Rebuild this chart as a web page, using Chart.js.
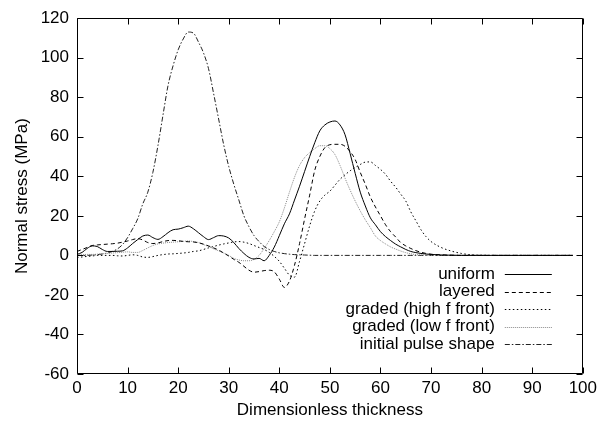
<!DOCTYPE html>
<html>
<head>
<meta charset="utf-8">
<script src="https://cdn.jsdelivr.net/npm/chart.js@4"></script>
<style>
html,body{margin:0;padding:0;background:#fff;}
#wrap{width:601px;height:428px;}
</style>
</head>
<body>
<div id="wrap"><canvas id="c" width="601" height="428"></canvas></div>
<script>
// x positions (dimensionless thickness)
const xs = [0,1,2,3,4,5,6,7,8,9,10,11,12,13,14,15,16,17,18,19,20,21,22,23,24,25,26,27,28,29,30,31,32,33,34,35,36,37,38,39,40,41,42,43,44,45,46,47,48,49,50,51,52,53,54,55,56,57,58,59,60,61,62,63,64,65,66,67,68,69,70,72,74,76,78,80,82,84,86,88,90,92,94,96,98];

const uniform = [0.5,1.5,3.5,4.8,4.5,3,2,2,2.1,2.3, 3.8,6,8,9.8,10.3,9,8.1,9.5,11.5,13, 13.3,14,14.8,13.5,11.5,9.5,8,9,10,9.8, 8.8,6.5,3.5,1,-1,-1.8,-1.5,-2.7,0,4.2, 10,16,21,28,35,42.5,50,57,63,66, 67.5,68,66,61,51.5,41.5,32,25,19,15.5, 12,9.5,7.5,5.7,4.3,3,2,1.4,1,0.7, 0.5, 0.2,0.1,0,0,0,0,0,0,0,0,0,0,0,0];

const layered = [2,3,4,5,5.3,5.5,5.7,5.9,6.2,6.7, 7.3,8,8.5,7.8,6.5,6,6.3,7,7.5,7.6, 7.4,7.1,6.9,6.8,6.4,5.7,4.8,3.8,2.7,1.2, -0.3,-2,-3.5,-5.5,-7.5,-8.5,-8.2,-7.7,-7.5,-8.3, -12,-16.2,-13,-5,6,18.5,30.5,43,50,54.5, 56,56.2,56.2,55.2,52.5,48.5,42,36,29.5,24.5, 20,15.5,12,9.3,6.5,4.8,3.5,2.4,1.6,1, 0.6, 0.3,0.1,0,0,0,0,0,0,0,0,0,0,0,0];

const gradedHigh = [-1,-0.8,-0.5,-0.3,0,0,0,0,-0.2,-0.3, 0,0.3,0,-0.8,-1,-0.6,0,0.4,0.7,0.8, 1,1.2,1.5,2,2.3,3,3.8,4.5,5.2,5.8, 6.3,6.8,7,6.7,6,5,4,3,1.5,-0.5, -3,-6.5,-10,-11,-3,6,15,22.5,27.5,30.5, 32.5,35.5,38.5,40.8,42.8,44.5,46,47.2,47.3,45.5, 43.5,41,37.5,34.5,31,27.5,22,17.5,13,9.5, 7, 4,2.2,1,0.3,0.1,0,0,0,0,0,0,0,0,0];

const gradedLow = [0,0.3,0.5,0.5,0.6,0.8,1,1.2,1.4,1.6, 1.8,1.5,1.5,2.5,3.8,5,5.8,6.2,6.5,6.7, 6.9,7.1,7.3,7,6.5,5.5,4.5,3.3,2.3,1.2, 0,-1.5,-2.3,-2.7,-2.7,-2,0,3.5,7.5,12, 17,24,32,39.5,45.5,49.5,52,54,55.5,55.5, 54,51,45.5,39,33,27.5,22.5,18,14,9.8, 7.5,5.8,4.3,3.2,2.2,1.4,0.8,0.4,0.2,0.1, 0, 0,0,0,0,0,0,0,0,0,0,0,0,0,0];

const pulse = [0,0,0,0.2,0.4,0.7,1.2,2,3.3,5.5, 9,13.5,18.5,26,32,42,55.5,71,86,96, 104,109.5,113,112.5,108,102.5,94.5,82,69,56, 45,36,28,20,14.5,10,7,4.5,3,2, 1.3,0.9,0.6,0.4,0.3,0.2,0.1,0,0,0, 0,0,0,0,0,0,0,0,0,0, 0,0,0,0,0,0,0,0,0,0, 0, 0,0,0,0,0,0,0,0,0,0,0,0,0,0];

const seriesNames = ['uniform','layered','graded (high f front)','graded (low f front)','initial pulse shape'];
const xTicks = [0,10,20,30,40,50,60,70,80,90,100];
const yTicks = [-60,-40,-20,0,20,40,60,80,100,120];

const FONT = '"Liberation Sans", Arial, Helvetica, sans-serif';

function pts(v){ return xs.map((x,i)=>({x:x,y:v[i]})); }

const styles = [
  {color:'#000', dash:[]},
  {color:'#000', dash:[4,3]},
  {color:'#000', dash:[1.5,2.5]},
  {color:'#8a8a8a', dash:[1,1]},
  {color:'#222', dash:[5,2,1.5,2]}
];
const values = [uniform, layered, gradedHigh, gradedLow, pulse];

const datasets = values.map((v,i)=>({
  label: seriesNames[i],
  data: pts(v),
  borderColor: styles[i].color,
  borderDash: styles[i].dash,
  borderWidth: 1,
  pointRadius: 0,
  fill: false,
  cubicInterpolationMode: 'monotone'
}));

const framePlugin = {
  id: 'frame',
  afterDraw(chart){
    const ctx = chart.ctx;
    const a = chart.chartArea;
    const xs_ = chart.scales.x, ys_ = chart.scales.y;
    ctx.save();
    ctx.strokeStyle = '#000';
    ctx.lineWidth = 1;
    ctx.setLineDash([]);
    const L = Math.round(a.left)+0.5, R = Math.round(a.right)-0.5, T = Math.round(a.top)+0.5, B = Math.round(a.bottom)-0.5;
    ctx.beginPath();
    ctx.rect(L, T, R-L, B-T);
    ctx.stroke();
    const tl = 6;
    ctx.beginPath();
    yTicks.forEach(v=>{
      const y = Math.round(ys_.getPixelForValue(v))+0.5;
      ctx.moveTo(L, y); ctx.lineTo(L+tl, y);
      ctx.moveTo(R, y); ctx.lineTo(R-tl, y);
    });
    xTicks.forEach(v=>{
      const x = Math.round(xs_.getPixelForValue(v))+0.5;
      ctx.moveTo(x, B); ctx.lineTo(x, B-tl);
      ctx.moveTo(x, T); ctx.lineTo(x, T+tl);
    });
    ctx.stroke();

    // legend (text right-aligned, sample line on the right)
    ctx.font = '17px ' + FONT;
    ctx.textAlign = 'right';
    ctx.textBaseline = 'middle';
    ctx.fillStyle = '#000';
    const textRight = a.right - 88;
    const s0 = a.right - 78, s1 = a.right - 31;
    chart.data.datasets.forEach((ds,i)=>{
      const y = 274 + i*17.5;
      ctx.fillText(ds.label, textRight, y);
      ctx.beginPath();
      ctx.strokeStyle = ds.borderColor;
      ctx.setLineDash(ds.borderDash);
      ctx.moveTo(s0, Math.round(y)+0.5);
      ctx.lineTo(s1, Math.round(y)+0.5);
      ctx.stroke();
    });
    ctx.restore();
  }
};

new Chart(document.getElementById('c'), {
  type: 'line',
  data: { datasets: datasets },
  options: {
    responsive: false,
    animation: false,
    devicePixelRatio: 1,
    layout: { padding: { left: 0, right: 14, top: 14, bottom: 0 } },
    plugins: { legend: { display: false }, tooltip: { enabled: false } },
    scales: {
      x: {
        type: 'linear', min: 0, max: 100,
        afterBuildTicks(s){ s.ticks = xTicks.map(v=>({value:v})); },
        afterFit(s){ s.height = 54; },
        grid: { display: false, drawTicks: false },
        border: { display: false },
        ticks: { color: '#000', font: { family: FONT, size: 17 }, padding: 4, maxRotation: 0, autoSkip: false },
        title: { display: true, text: 'Dimensionless thickness', color: '#000', font: { family: FONT, size: 17 }, padding: { top: 0, bottom: 7 } }
      },
      y: {
        type: 'linear', min: -60, max: 120,
        afterBuildTicks(s){ s.ticks = yTicks.map(v=>({value:v})); },
        afterFit(s){ s.width = 77; },
        grid: { display: false, drawTicks: false },
        border: { display: false },
        ticks: { color: '#000', font: { family: FONT, size: 17 }, padding: 8, autoSkip: false },
        title: { display: true, text: 'Normal stress (MPa)', color: '#000', font: { family: FONT, size: 17 }, padding: { top: 12, bottom: 0 } }
      }
    }
  },
  plugins: [framePlugin]
});
</script>
</body>
</html>
